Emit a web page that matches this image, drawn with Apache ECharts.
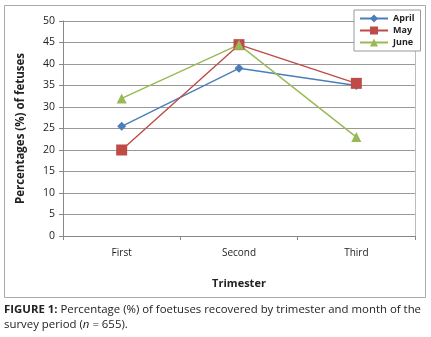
<!DOCTYPE html>
<html>
<head>
<meta charset="utf-8">
<script src="https://cdn.jsdelivr.net/npm/echarts@6/dist/echarts.min.js"></script>
<style>
  html, body { margin: 0; padding: 0; background: #fff; }
  #chart { width: 431px; height: 337px; }
</style>
</head>
<body>
<div id="chart"></div>
<script>
var categories = ['First', 'Second', 'Third']
var april = [25.5, 39, 35]
var may = [20, 44.5, 35.5]
var june = [32, 44.5, 23]

var font = 'Open Sans'
var chart = echarts.init(document.getElementById('chart'))

function line(name, data, color, symbol, size) {
  return {
    name: name,
    type: 'line',
    data: data,
    symbol: symbol,
    symbolSize: size,
    lineStyle: { color: color, width: 1.4 },
    itemStyle: { color: color },
    animation: false
  }
}

chart.setOption({
  animation: false,
  textStyle: { fontFamily: font },
  grid: { left: 63, right: 16, top: 21, bottom: 101 },
  legend: {
    orient: 'vertical',
    left: 354,
    top: 10,
    itemWidth: 28,
    itemHeight: 10,
    itemGap: 3,
    padding: [4, 6, 4, 5],
    borderColor: '#999',
    borderWidth: 1,
    backgroundColor: '#fff',
    textStyle: { fontSize: 9, fontWeight: 'bold', color: '#222', fontFamily: font },
    data: ['April', 'May', 'June']
  },
  xAxis: {
    type: 'category',
    data: categories,
    boundaryGap: true,
    name: 'Trimester',
    nameLocation: 'middle',
    nameGap: 42,
    nameTextStyle: { fontSize: 11, fontWeight: 'bold', color: '#222' },
    axisLine: { lineStyle: { color: '#888' } },
    axisTick: { show: true, length: 4, lineStyle: { color: '#888' } },
    axisLabel: { fontSize: 10, color: '#222', margin: 12 }
  },
  yAxis: [{
    type: 'value',
    min: 0,
    max: 50,
    interval: 5,
    name: 'Percentages (%) of fetuses',
    nameLocation: 'middle',
    nameGap: 36,
    nameTextStyle: { fontSize: 11.5, fontWeight: 'bold', color: '#222' },
    axisLine: { show: true, lineStyle: { color: '#888' } },
    axisTick: { show: true, length: 4, inside: false, lineStyle: { color: '#888' } },
    axisLabel: { fontSize: 10.5, color: '#222', margin: 8 },
    splitLine: { lineStyle: { color: '#999', width: 1 } }
  }, {
    type: 'value',
    min: 0,
    max: 50,
    position: 'right',
    axisLine: { show: true, lineStyle: { color: '#bbb' } },
    axisTick: { show: false },
    axisLabel: { show: false },
    splitLine: { show: false }
  }],
  graphic: [
    {
      type: 'rect',
      shape: { x: 4.5, y: 5.5, width: 421, height: 292 },
      style: { fill: 'none', stroke: '#aaa', lineWidth: 1 },
      z: -1
    },
    {
      type: 'text',
      left: 4,
      top: 302,
      style: {
        text: '{b|FIGURE 1:} Percentage (%) of foetuses recovered by trimester and month of the\nsurvey period ({i|n} = 655).',
        fontFamily: font,
        fontSize: 11.4,
        lineHeight: 15,
        fill: '#222',
        rich: {
          b: { fontWeight: 'bold', fontSize: 11.4, fontFamily: font, fill: '#222' },
          i: { fontStyle: 'italic', fontSize: 11.4, fontFamily: font, fill: '#222' }
        }
      }
    }
  ],
  series: [
    line('April', april, '#4a7ebb', 'diamond', 9),
    line('May', may, '#be4b48', 'rect', 11),
    line('June', june, '#98b954', 'triangle', 10)
  ]
})
</script>
</body>
</html>
